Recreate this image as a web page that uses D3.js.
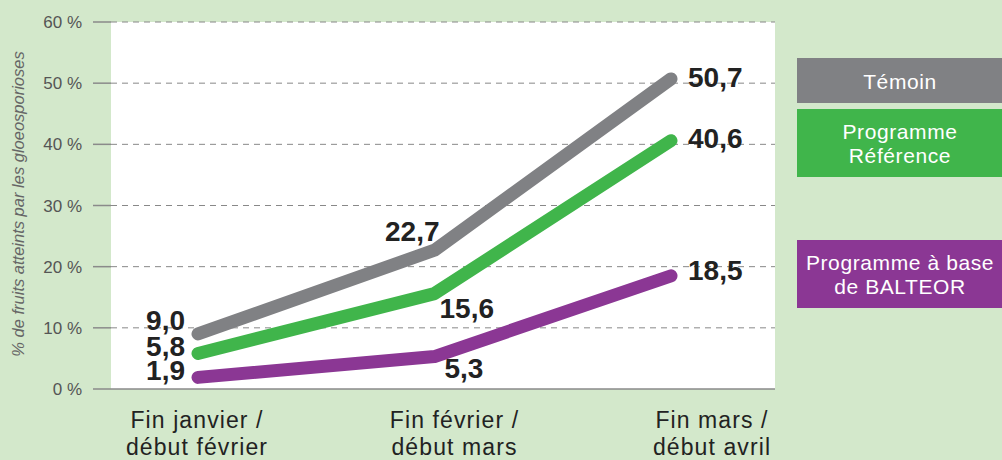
<!DOCTYPE html>
<html>
<head>
<meta charset="utf-8">
<script src="https://cdn.jsdelivr.net/npm/d3@7"></script>
<style>
  body{margin:0;background:#d3e8cb;}
  text{font-family:"Liberation Sans",Arial,sans-serif;}
</style>
</head>
<body>
<svg id="chart" width="1002" height="460"></svg>
<script>
// data
const periods=["Fin janvier / début février","Fin février / début mars","Fin mars / début avril"]
const temoin=[9.0,22.7,50.7]
const reference=[5.8,15.6,40.6]
const balteor=[1.9,5.3,18.5]
const seriesNames=["Témoin","Programme Référence","Programme à base de BALTEOR"]
const yTicks=[0,10,20,30,40,50,60]

const svg=d3.select("#chart")
const colors=["#808184","#40b54b","#8b3794"]

const plot={left:111,right:775,top:22,bottom:389}

const x=d3.scalePoint().domain(periods).range([198,671])
const xLabel=d3.scalePoint().domain(periods).range([197,712])
const y=d3.scaleLinear().domain([0,60]).range([plot.bottom,plot.top])

// white plot area
svg.append("rect")
   .attr("x",plot.left).attr("y",plot.top)
   .attr("width",plot.right-plot.left).attr("height",plot.bottom-plot.top)
   .attr("fill","#fff")

// grid
const grid=svg.append("g")
grid.selectAll("line.dash")
    .data(yTicks.filter(d=>d>0))
    .enter().append("line")
    .attr("x1",plot.left).attr("x2",plot.right)
    .attr("y1",d=>y(d)).attr("y2",d=>y(d))
    .attr("stroke","#888").attr("stroke-width",1)
    .attr("stroke-dasharray","6,5")
grid.selectAll("line.tick")
    .data(yTicks)
    .enter().append("line")
    .attr("x1",93).attr("x2",plot.left)
    .attr("y1",d=>y(d)).attr("y2",d=>y(d))
    .attr("stroke","#8a8a8a").attr("stroke-width",1.5)
svg.append("line")
   .attr("x1",plot.left).attr("x2",plot.right)
   .attr("y1",y(0)).attr("y2",y(0))
   .attr("stroke","#8a8a8a").attr("stroke-width",1.5)

grid.selectAll("text")
    .data(yTicks)
    .enter().append("text")
    .attr("x",82).attr("y",d=>y(d)+6)
    .attr("text-anchor","end")
    .attr("font-size",17).attr("fill","#555")
    .text(d=>d+" %")

svg.append("text")
   .attr("transform","translate(24,204) rotate(-90)")
   .attr("text-anchor","middle")
   .attr("font-size",16.5).attr("font-style","italic").attr("fill","#666")
   .text("% de fruits atteints par les gloeosporioses")

// x labels
svg.selectAll("text.xl")
   .data(periods)
   .enter().append("text")
   .attr("text-anchor","middle")
   .attr("font-size",23).attr("letter-spacing",1.1).attr("fill","#222")
   .attr("x",d=>xLabel(d))
   .each(function(d){
       const parts=d.split(" / ")
       d3.select(this).append("tspan").attr("x",xLabel(d)).attr("y",428).text(parts[0]+" /")
       d3.select(this).append("tspan").attr("x",xLabel(d)).attr("y",455).text(parts[1])
   })

// lines
const allSeries=[temoin,reference,balteor]
const line=d3.line().x((d,i)=>x(periods[i])).y(d=>y(d))
svg.selectAll("path.series")
   .data(allSeries)
   .enter().append("path")
   .attr("d",line)
   .attr("fill","none")
   .attr("stroke",(d,i)=>colors[i])
   .attr("stroke-width",13)
   .attr("stroke-linecap","round")
   .attr("stroke-linejoin","round")

// value labels: [dx, dy, anchor] per series/point
const labelPos=[
  [[-13,-4,"end"],[5,-9,"end"],[17,8,"start"]],
  [[-13,2,"end"],[5,24,"start"],[17,7,"start"]],
  [[-13,3,"end"],[10,21,"start"],[17,4,"start"]]
]
const fmt=d=>d3.format(".1f")(d).replace(".",",")
allSeries.forEach((s,si)=>{
  svg.selectAll("text.v"+si)
     .data(s)
     .enter().append("text")
     .attr("x",(d,i)=>x(periods[i])+labelPos[si][i][0])
     .attr("y",(d,i)=>y(d)+labelPos[si][i][1])
     .attr("text-anchor",(d,i)=>labelPos[si][i][2])
     .attr("font-size",28).attr("font-weight","bold").attr("fill","#222")
     .text(fmt)
})

// legend
const legendBoxes=[
  {y:58,h:45,lines:["Témoin"]},
  {y:109,h:68,lines:["Programme","Référence"]},
  {y:240,h:68,lines:["Programme à base","de BALTEOR"]}
]
const lg=svg.selectAll("g.legend")
   .data(seriesNames)
   .enter().append("g")
lg.append("rect")
  .attr("x",797).attr("y",(d,i)=>legendBoxes[i].y)
  .attr("width",205).attr("height",(d,i)=>legendBoxes[i].h)
  .attr("fill",(d,i)=>colors[i])
lg.each(function(d,i){
  const b=legendBoxes[i]
  const n=b.lines.length
  b.lines.forEach((t,k)=>{
    d3.select(this).append("text")
      .attr("x",900)
      .attr("y",b.y+b.h/2+8+(k-(n-1)/2)*24)
      .attr("text-anchor","middle")
      .attr("font-size",21).attr("letter-spacing",0.6).attr("fill","#fff")
      .text(t)
  })
})
</script>
</body>
</html>
